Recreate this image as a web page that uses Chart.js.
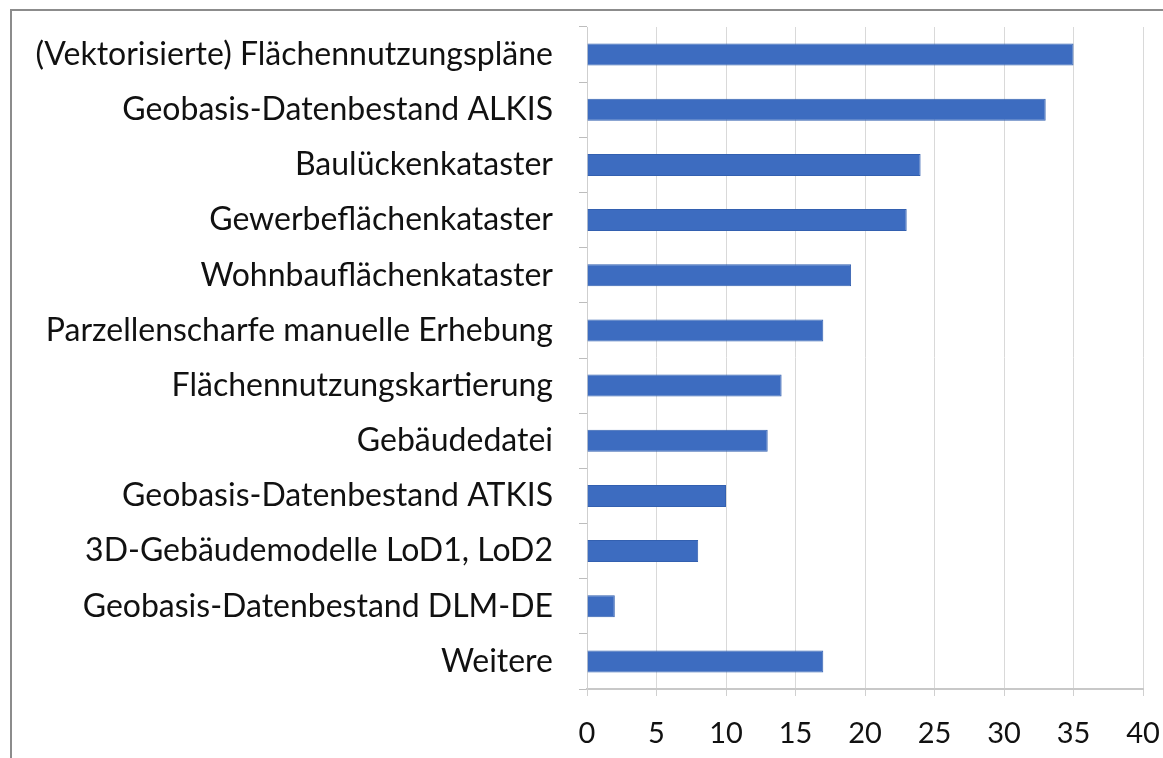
<!DOCTYPE html>
<html lang="de">
<head>
<meta charset="UTF-8">
<title>Datengrundlagen</title>
<script src="https://cdn.jsdelivr.net/npm/chart.js"></script>
<style>
  html, body { margin: 0; padding: 0; background: #fff; }
  #wrap { position: relative; width: 1163px; height: 758px; }
  #frame { position: absolute; left: 10px; top: 9px; right: 0; bottom: 0;
           border-top: 2px solid #8c8c8c; border-left: 2px solid #8c8c8c; }
  canvas { position: absolute; left: 0; top: 0; }
</style>
</head>
<body>
<div id="wrap">
  <div id="frame"></div>
  <canvas id="chartCanvas" width="1163" height="758"></canvas>
</div>
<script>
// categories and counts, top to bottom
const categories = [
  '(Vektorisierte) Flächennutzungspläne',
  'Geobasis-Datenbestand ALKIS',
  'Baulückenkataster',
  'Gewerbeflächenkataster',
  'Wohnbauflächenkataster',
  'Parzellenscharfe manuelle Erhebung',
  'Flächennutzungskartierung',
  'Gebäudedatei',
  'Geobasis-Datenbestand ATKIS',
  '3D-Gebäudemodelle LoD1, LoD2',
  'Geobasis-Datenbestand DLM-DE',
  'Weitere'
];
const counts = [35, 33, 24, 23, 19, 17, 14, 13, 10, 8, 2, 17];
const xTicks = [0, 5, 10, 15, 20, 25, 30, 35, 40];

const font = "Lato, 'Open Sans', sans-serif";

const ctx = document.getElementById('chartCanvas').getContext('2d');
const chart = new Chart(ctx, {
    type: 'bar',
    data: {
        labels: categories,
        datasets: [{
            data: counts,
            backgroundColor: '#3d6cc0',
            borderColor: '#3360b0',
            borderWidth: 1,
            categoryPercentage: 1,
            barPercentage: 0.4
        }]
    },
    options: {
        indexAxis: 'y',
        responsive: false,
        animation: false,
        layout: { padding: { top: 27, right: 20, left: 0, bottom: 0 } },
        plugins: { legend: { display: false }, tooltip: { enabled: false } },
        scales: {
            x: {
                min: xTicks[0],
                max: xTicks[xTicks.length - 1],
                afterBuildTicks: axis => { axis.ticks = xTicks.map(v => ({ value: v })); },
                afterFit: axis => { axis.height = 69; axis.paddingLeft = 0; axis.paddingRight = 0; },
                border: { color: '#c8c8c8', width: 2 },
                grid: { color: '#d9d9d9', lineWidth: 1, tickLength: 7, tickColor: '#d0d0d0' },
                ticks: { color: '#111', padding: 20, font: { family: font, size: 29 } }
            },
            y: {
                afterFit: axis => { axis.width = 587; axis.paddingTop = 0; axis.paddingBottom = 0; },
                border: { color: '#cfcfcf', width: 1 },
                grid: { offset: true, drawOnChartArea: false, tickLength: 8, tickColor: '#bdbdbd' },
                ticks: { color: '#111', padding: 26, font: { family: font, size: 32 } }
            }
        }
    }
});
</script>
</body>
</html>
